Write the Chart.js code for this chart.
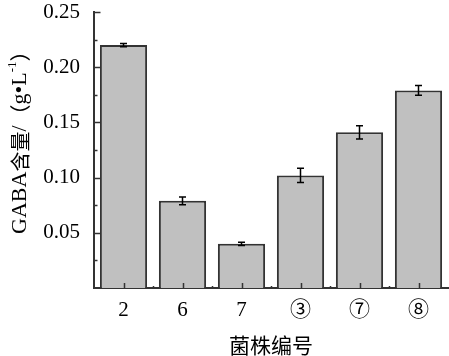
<!DOCTYPE html>
<html>
<head>
<meta charset="utf-8">
<script src="https://cdn.jsdelivr.net/npm/chart.js@4"></script>
<style>
html,body{margin:0;padding:0;background:#fff;}
#wrap{width:449px;height:356px;position:relative;}
</style>
</head>
<body>
<div id="wrap"><canvas id="c" width="449" height="356"></canvas></div>
<script>
// ---- data ----
const categories = ['2', '6', '7', '③', '⑦', '⑧'];
const gabaValues = [0.220, 0.079, 0.040, 0.102, 0.141, 0.179];
const gabaErrors = [0.0015, 0.0035, 0.0015, 0.0065, 0.006, 0.0045];
const yTicks = [0.05, 0.10, 0.15, 0.20, 0.25];
const xTitle = '菌株编号';

const SERIF = '"Liberation Serif", "Times New Roman", "Noto Sans CJK SC", serif';
const CJK = '"Noto Sans CJK SC", sans-serif';
const AXIS = '#333333';
const TEXT = '#000000';

const customDraw = {
  id: 'customDraw',
  afterDatasetsDraw(chart) {
    const ctx = chart.ctx;
    const xs = chart.scales.x, ys = chart.scales.y;
    const area = chart.chartArea;
    ctx.save();
    // error bars
    const meta = chart.getDatasetMeta(0);
    ctx.strokeStyle = '#000';
    ctx.lineWidth = 1.5;
    meta.data.forEach((bar, i) => {
      const v = gabaValues[i], e = gabaErrors[i];
      const x = bar.x;
      const yt = ys.getPixelForValue(v + e);
      const yb = ys.getPixelForValue(v - e);
      ctx.beginPath();
      ctx.moveTo(x, yt); ctx.lineTo(x, yb);
      ctx.moveTo(x - 3.5, yt); ctx.lineTo(x + 3.5, yt);
      ctx.moveTo(x - 3.5, yb); ctx.lineTo(x + 3.5, yb);
      ctx.stroke();
    });
    // inward y ticks (major + minor)
    ctx.strokeStyle = AXIS;
    ctx.lineWidth = 1.5;
    const step = yTicks[1] - yTicks[0];
    yTicks.forEach(t => {
      const y = Math.round(ys.getPixelForValue(t)) + 0.5;
      ctx.beginPath(); ctx.moveTo(area.left, y); ctx.lineTo(area.left + 6.5, y); ctx.stroke();
      const ym = Math.round(ys.getPixelForValue(t - step / 2)) + 0.5;
      ctx.beginPath(); ctx.moveTo(area.left, ym); ctx.lineTo(area.left + 3.5, ym); ctx.stroke();
    });
    // inward x ticks
    categories.forEach((c, i) => {
      const x = Math.round(xs.getPixelForValue(i)) + 0.5;
      ctx.beginPath(); ctx.moveTo(x, area.bottom); ctx.lineTo(x, area.bottom - 5); ctx.stroke();
      if (i > 0) {
        const xb = Math.round((xs.getPixelForValue(i) + xs.getPixelForValue(i - 1)) / 2) + 0.5;
        ctx.beginPath(); ctx.moveTo(xb, area.bottom); ctx.lineTo(xb, area.bottom - 2); ctx.stroke();
      }
    });
    ctx.restore();
  },
  afterDraw(chart) {
    // rotated y-axis title with superscript
    const ctx = chart.ctx;
    const parts = [
      {t: 'GABA', f: '22px ' + SERIF, dy: 0},
      {t: '含量', f: '20px ' + CJK, dy: 0},
      {t: '/', f: '22px ' + SERIF, dy: 0},
      {t: '（', f: '21px ' + CJK, dy: 0},
      {t: 'g', f: '22px ' + SERIF, dy: 0},
      {t: '•', f: '22px ' + SERIF, dy: 0},
      {t: 'L', f: '22px ' + SERIF, dy: 0},
      {t: '-1', f: '13px ' + SERIF, dy: -7},
      {t: '）', f: '21px ' + CJK, dy: 0, half: true}
    ];
    ctx.save();
    let visible = 0;
    parts.forEach(p => { ctx.font = p.f; p.w = ctx.measureText(p.t).width; visible += p.half ? p.w * 0.5 : p.w; });
    ctx.translate(20, 142.5);
    ctx.rotate(-Math.PI / 2);
    ctx.fillStyle = TEXT;
    ctx.textBaseline = 'middle';
    ctx.textAlign = 'left';
    let x = -visible / 2;
    parts.forEach(p => { ctx.font = p.f; ctx.fillText(p.t, x, p.dy); x += p.w; });
    ctx.restore();
  }
};

new Chart(document.getElementById('c'), {
  type: 'bar',
  data: {
    labels: categories,
    datasets: [{
      data: gabaValues,
      backgroundColor: '#c0c0c0',
      borderColor: AXIS,
      borderWidth: 2,
      categoryPercentage: 1.0,
      barPercentage: 0.8
    }]
  },
  options: {
    responsive: false,
    animation: false,
    devicePixelRatio: 1,
    layout: {padding: {left: 0, right: 1, top: 12, bottom: 0}},
    plugins: {legend: {display: false}, tooltip: {enabled: false}},
    scales: {
      x: {
        grid: {display: false, drawTicks: false},
        border: {display: true, color: AXIS, width: 2},
        ticks: {color: TEXT, padding: 12, font: {family: SERIF, size: 21, lineHeight: 1}},
        title: {display: true, text: xTitle, color: TEXT, padding: {top: 0, bottom: 0},
                font: {family: CJK, size: 21, lineHeight: 1}},
        afterFit: s => { s.height = 68; s.paddingLeft = 0; s.paddingRight = 0; }
      },
      y: {
        min: 0, max: 0.25,
        afterBuildTicks: s => { s.ticks = yTicks.map(v => ({value: v})); },
        grid: {display: false, drawTicks: false},
        border: {display: true, color: AXIS, width: 2},
        ticks: {color: TEXT, padding: 14, font: {family: SERIF, size: 21, lineHeight: 1},
                callback: v => Number(v).toFixed(2)},
        afterFit: s => { s.width = 94; s.paddingTop = 0; s.paddingBottom = 0; }
      }
    }
  },
  plugins: [customDraw]
});
</script>
</body>
</html>
